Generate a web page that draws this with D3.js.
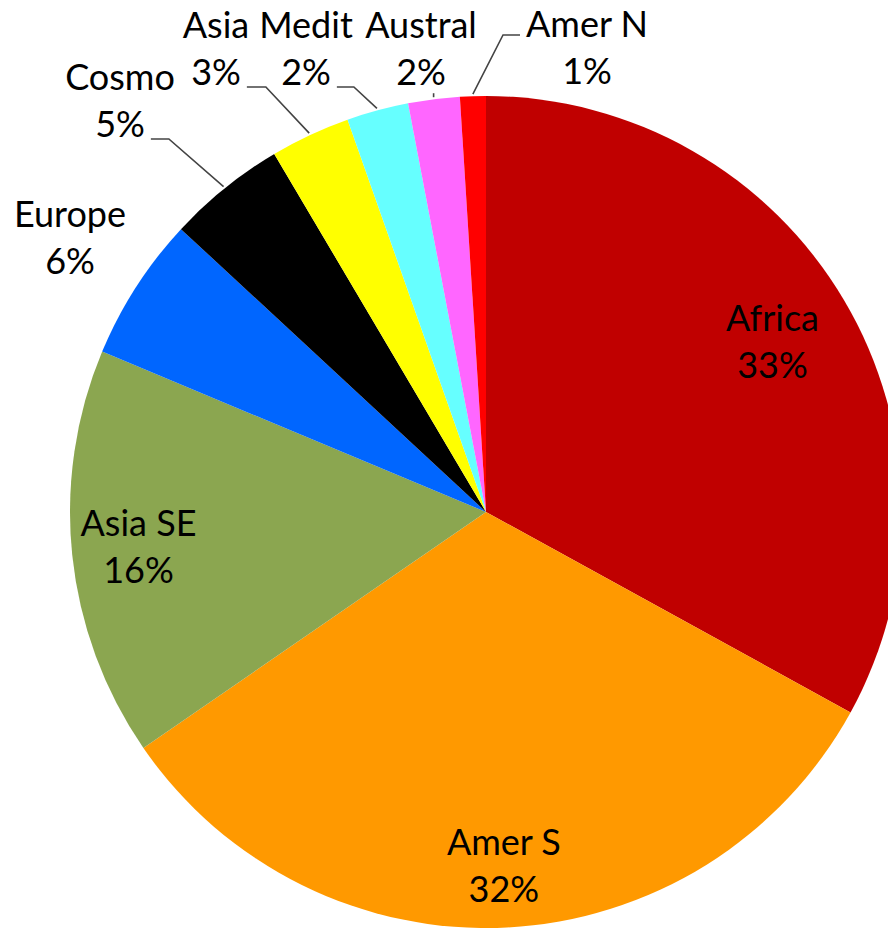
<!DOCTYPE html>
<html>
<head>
<meta charset="utf-8">
<script src="https://cdn.jsdelivr.net/npm/d3@7"></script>
<style>
  html, body { margin: 0; padding: 0; background: #fff; }
  svg { display: block; }
  .label text { font-family: Lato, "Open Sans", sans-serif; font-size: 36px; fill: #000; }
  .leader { fill: none; stroke: #444; stroke-width: 1.6; }
</style>
</head>
<body>
<svg id="chart" width="888" height="928"></svg>
<script>
"use strict";

// regions, clockwise from 12 o'clock
var categories = ["Africa", "Amer S", "Asia SE", "Europe", "Cosmo", "Asia", "Medit", "Austral", "Amer N"];
// share of total (%)
var shares = [33.0, 32.4, 15.9, 5.6, 4.6, 3.1, 2.4, 2.0, 1.0];
var colors = ["#C00000", "#FF9900", "#8BA650", "#0066FF", "#000000", "#FFFF00", "#66FFFF", "#FF66FF", "#FF0000"];

var width = 888, height = 928;
var cx = 486, cy = 512, radius = 416;
var lineGap = 47;

// where each label goes: inside ones sit on the slice at a fraction of the radius,
// outside ones are placed around the top of the pie (text centre x, first baseline y)
var labelLayout = {
  "Africa":  { inside: 0.80 },
  "Amer S":  { inside: 0.855 },
  "Asia SE": { inside: 0.84 },
  "Europe":  { x: 70,  y: 227 },
  "Cosmo":   { x: 120, y: 90,  leader: "right", run: 18 },
  "Asia":    { x: 216, y: 38,  leader: "right", run: 19 },
  "Medit":   { x: 306, y: 38,  leader: "right", run: 17 },
  "Austral": { x: 421, y: 38,  leader: "tick" },
  "Amer N":  { x: 587, y: 37,  leader: "left", run: 17 }
};

var data = categories.map(function (c, i) {
  return { name: c, value: shares[i], color: colors[i] };
});

var pie = d3.pie().sort(null).value(function (d) { return d.value; });
var arc = d3.arc().innerRadius(0).outerRadius(radius);

var svg = d3.select("#chart");
var chart = svg.append("g").attr("transform", "translate(" + cx + "," + cy + ")");

var arcs = pie(data);

chart.selectAll(".slice").data(arcs).enter().append("path")
  .attr("class", "slice")
  .attr("d", arc)
  .attr("fill", function (d) { return d.data.color; });

// point on the rim at a slice's mid angle, at factor k of the radius
function rimPoint(d, k) {
  var a = (d.startAngle + d.endAngle) / 2;
  return [Math.sin(a) * radius * k, -Math.cos(a) * radius * k];
}

var labels = chart.append("g").attr("class", "label");

arcs.forEach(function (d) {
  var lay = labelLayout[d.data.name];
  var pct = Math.round(d.data.value) + "%";
  var x, y;
  if (lay.inside) {
    var p = rimPoint(d, lay.inside);
    x = p[0];
    y = p[1] - 12;
  } else {
    x = lay.x - cx;
    y = lay.y - cy;
  }
  var t1 = labels.append("text").attr("x", x).attr("y", y)
    .attr("text-anchor", "middle").text(d.data.name);
  var t2 = labels.append("text").attr("x", x).attr("y", y + lineGap)
    .attr("text-anchor", "middle").text(pct);

  if (!lay.leader) return;
  var end = rimPoint(d, 1.005);
  var pts;
  if (lay.leader === "right") {
    var w = t2.node().getComputedTextLength();
    var sx = x + w / 2 + 6;
    var sy = y + lineGap + 2;
    pts = [[sx, sy], [sx + lay.run, sy], end];
  } else if (lay.leader === "left") {
    var w1 = t1.node().getComputedTextLength();
    var ex = x - w1 / 2 - 6;
    var ey = y - 2;
    pts = [[ex, ey], [ex - lay.run, ey], end];
  } else {
    pts = [[end[0], end[1] - 4], end];
  }
  labels.append("path").attr("class", "leader").attr("d", d3.line()(pts));
});
</script>
</body>
</html>
